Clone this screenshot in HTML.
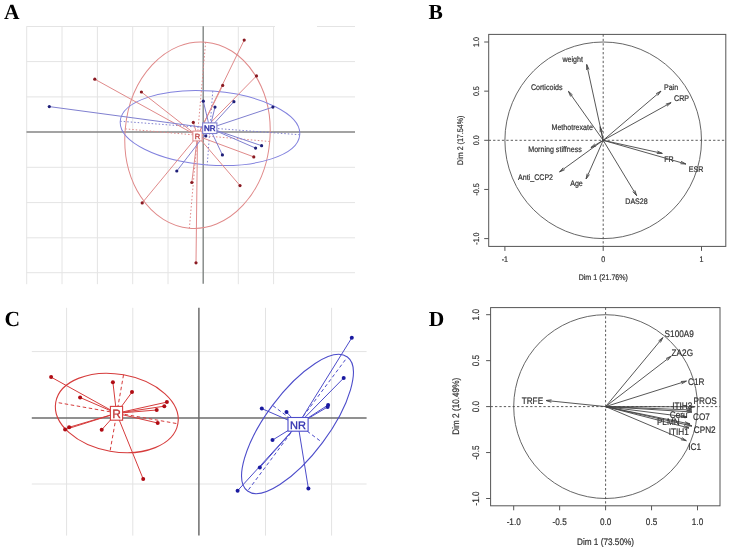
<!DOCTYPE html>
<html><head><meta charset="utf-8"><style>
html,body{margin:0;padding:0;background:#fff;width:730px;height:550px;overflow:hidden}
svg{display:block;filter:blur(0.35px);text-rendering:geometricPrecision}
</style></head><body>
<svg width="730" height="550" viewBox="0 0 730 550">
<rect width="730" height="550" fill="#fff"/>
<line x1="26.7" y1="26.4" x2="26.7" y2="284.2" stroke="#e4e4e4" stroke-width="1" />
<line x1="62" y1="26.4" x2="62" y2="284.2" stroke="#e4e4e4" stroke-width="1" />
<line x1="97.4" y1="26.4" x2="97.4" y2="284.2" stroke="#e4e4e4" stroke-width="1" />
<line x1="132.7" y1="26.4" x2="132.7" y2="284.2" stroke="#e4e4e4" stroke-width="1" />
<line x1="168" y1="26.4" x2="168" y2="284.2" stroke="#e4e4e4" stroke-width="1" />
<line x1="238.3" y1="26.4" x2="238.3" y2="284.2" stroke="#e4e4e4" stroke-width="1" />
<line x1="273.6" y1="26.4" x2="273.6" y2="284.2" stroke="#e4e4e4" stroke-width="1" />
<line x1="26.5" y1="26.5" x2="275" y2="26.5" stroke="#e4e4e4" stroke-width="1" />
<line x1="317" y1="26.5" x2="355" y2="26.5" stroke="#e4e4e4" stroke-width="1" />
<line x1="26.5" y1="61.6" x2="355" y2="61.6" stroke="#e4e4e4" stroke-width="1" />
<line x1="26.5" y1="96.9" x2="355" y2="96.9" stroke="#e4e4e4" stroke-width="1" />
<line x1="26.5" y1="167.3" x2="355" y2="167.3" stroke="#e4e4e4" stroke-width="1" />
<line x1="26.5" y1="202.6" x2="355" y2="202.6" stroke="#e4e4e4" stroke-width="1" />
<line x1="26.5" y1="237.8" x2="355" y2="237.8" stroke="#e4e4e4" stroke-width="1" />
<line x1="26.5" y1="272.7" x2="355" y2="272.7" stroke="#e4e4e4" stroke-width="1" />
<line x1="26.5" y1="132" x2="355" y2="132" stroke="#858585" stroke-width="1.4" />
<line x1="203.2" y1="26.2" x2="203.2" y2="283.8" stroke="#808583" stroke-width="1.4" />
<ellipse cx="197.5" cy="135.2" rx="72.5" ry="93.4" fill="none" stroke="#e08a8a" stroke-width="1" transform="rotate(5 197.5 135.2)"/>
<ellipse cx="210" cy="128" rx="90" ry="37" fill="none" stroke="#8282de" stroke-width="1" transform="rotate(4.3 210 128)"/>
<line x1="125.28" y1="128.88" x2="269.72" y2="141.52" stroke="#e08a8a" stroke-width="1" stroke-dasharray="1.5,2"/>
<line x1="205.64" y1="42.16" x2="189.36" y2="228.24" stroke="#e08a8a" stroke-width="1" stroke-dasharray="1.5,2"/>
<line x1="120.25" y1="121.25" x2="299.75" y2="134.75" stroke="#8080d0" stroke-width="1" stroke-dasharray="1.5,2"/>
<line x1="212.77" y1="91.1" x2="207.23" y2="164.9" stroke="#8080d0" stroke-width="1" stroke-dasharray="1.5,2"/>
<line x1="197.5" y1="136" x2="94.8" y2="79.2" stroke="#e08a8a" stroke-width="1" />
<line x1="197.5" y1="136" x2="141.4" y2="92" stroke="#e08a8a" stroke-width="1" />
<line x1="197.5" y1="136" x2="244.2" y2="40.1" stroke="#e08a8a" stroke-width="1" />
<line x1="197.5" y1="136" x2="256.5" y2="75.9" stroke="#e08a8a" stroke-width="1" />
<line x1="197.5" y1="136" x2="222.7" y2="85.4" stroke="#e08a8a" stroke-width="1" />
<line x1="197.5" y1="136" x2="193.3" y2="122.4" stroke="#e08a8a" stroke-width="1" />
<line x1="197.5" y1="136" x2="253.8" y2="156.9" stroke="#e08a8a" stroke-width="1" />
<line x1="197.5" y1="136" x2="240" y2="185.6" stroke="#e08a8a" stroke-width="1" />
<line x1="197.5" y1="136" x2="142.2" y2="202.9" stroke="#e08a8a" stroke-width="1" />
<line x1="197.5" y1="136" x2="191.8" y2="182.5" stroke="#e08a8a" stroke-width="1" />
<line x1="197.5" y1="136" x2="196" y2="262.8" stroke="#e08a8a" stroke-width="1" />
<line x1="209.8" y1="128.2" x2="49.3" y2="106.6" stroke="#8080d0" stroke-width="1" />
<line x1="209.8" y1="128.2" x2="203.3" y2="101.2" stroke="#8080d0" stroke-width="1" />
<line x1="209.8" y1="128.2" x2="215" y2="107.1" stroke="#8080d0" stroke-width="1" />
<line x1="209.8" y1="128.2" x2="233.9" y2="101.7" stroke="#8080d0" stroke-width="1" />
<line x1="209.8" y1="128.2" x2="272.9" y2="107.1" stroke="#8080d0" stroke-width="1" />
<line x1="209.8" y1="128.2" x2="261.6" y2="145.7" stroke="#8080d0" stroke-width="1" />
<line x1="209.8" y1="128.2" x2="255.6" y2="148.1" stroke="#8080d0" stroke-width="1" />
<line x1="209.8" y1="128.2" x2="222.4" y2="154.9" stroke="#8080d0" stroke-width="1" />
<line x1="209.8" y1="128.2" x2="205.8" y2="136" stroke="#8080d0" stroke-width="1" />
<line x1="209.8" y1="128.2" x2="176.8" y2="171" stroke="#8080d0" stroke-width="1" />
<circle cx="94.8" cy="79.2" r="1.6" fill="#8a1a22"/>
<circle cx="141.4" cy="92" r="1.6" fill="#8a1a22"/>
<circle cx="244.2" cy="40.1" r="1.6" fill="#8a1a22"/>
<circle cx="256.5" cy="75.9" r="1.6" fill="#8a1a22"/>
<circle cx="222.7" cy="85.4" r="1.6" fill="#8a1a22"/>
<circle cx="193.3" cy="122.4" r="1.6" fill="#8a1a22"/>
<circle cx="253.8" cy="156.9" r="1.6" fill="#8a1a22"/>
<circle cx="240" cy="185.6" r="1.6" fill="#8a1a22"/>
<circle cx="142.2" cy="202.9" r="1.6" fill="#8a1a22"/>
<circle cx="191.8" cy="182.5" r="1.6" fill="#8a1a22"/>
<circle cx="196" cy="262.8" r="1.6" fill="#8a1a22"/>
<circle cx="49.3" cy="106.6" r="1.6" fill="#1e1e78"/>
<circle cx="203.3" cy="101.2" r="1.6" fill="#1e1e78"/>
<circle cx="215" cy="107.1" r="1.6" fill="#1e1e78"/>
<circle cx="233.9" cy="101.7" r="1.6" fill="#1e1e78"/>
<circle cx="272.9" cy="107.1" r="1.6" fill="#1e1e78"/>
<circle cx="261.6" cy="145.7" r="1.6" fill="#1e1e78"/>
<circle cx="255.6" cy="148.1" r="1.6" fill="#1e1e78"/>
<circle cx="222.4" cy="154.9" r="1.6" fill="#1e1e78"/>
<circle cx="205.8" cy="136" r="1.6" fill="#1e1e78"/>
<circle cx="176.8" cy="171" r="1.6" fill="#1e1e78"/>
<rect x="192.9" y="131.1" width="9.2" height="9.8" fill="#fff" stroke="#e08a8a" stroke-width="1"/>
<text x="197.5" y="139.3" font-size="7.5" fill="#c04848" text-anchor="middle" font-family="Liberation Sans" stroke="#c04848" stroke-width="0.35">R</text>
<rect x="202.7" y="122.9" width="14.2" height="10.6" fill="#fff" stroke="#8080d0" stroke-width="1.1"/>
<text x="209.7" y="131.4" font-size="8" fill="#2e2ea8" text-anchor="middle" font-family="Liberation Sans" stroke="#2e2ea8" stroke-width="0.45">NR</text>
<line x1="66.6" y1="307.8" x2="66.6" y2="535.6" stroke="#e3e3e3" stroke-width="1" />
<line x1="132.8" y1="307.8" x2="132.8" y2="535.6" stroke="#e3e3e3" stroke-width="1" />
<line x1="265.5" y1="307.8" x2="265.5" y2="535.6" stroke="#e3e3e3" stroke-width="1" />
<line x1="331.6" y1="307.8" x2="331.6" y2="535.6" stroke="#e3e3e3" stroke-width="1" />
<line x1="31.8" y1="351.6" x2="366.6" y2="351.6" stroke="#e3e3e3" stroke-width="1" />
<line x1="31.8" y1="484" x2="366.6" y2="484" stroke="#e3e3e3" stroke-width="1" />
<line x1="31.8" y1="417.9" x2="366.6" y2="417.9" stroke="#6c6c6c" stroke-width="1.5" />
<line x1="198.9" y1="307.8" x2="198.9" y2="535.6" stroke="#6c6c6c" stroke-width="1.5" />
<ellipse cx="116.8" cy="413" rx="62" ry="38.8" fill="none" stroke="#d63c3c" stroke-width="1.1" transform="rotate(10 116.8 413)"/>
<line x1="58.7" y1="402.75" x2="177.37" y2="423.68" stroke="#d63c3c" stroke-width="1" stroke-dasharray="3.5,2.6"/>
<line x1="123.54" y1="374.79" x2="110.06" y2="451.21" stroke="#d63c3c" stroke-width="1" stroke-dasharray="3.5,2.6"/>
<ellipse cx="297.5" cy="424" rx="83.5" ry="31.2" fill="none" stroke="#4c4cca" stroke-width="1.1" transform="rotate(-53.3 297.5 424)"/>
<line x1="248.49" y1="489.75" x2="346.51" y2="358.25" stroke="#4c4cca" stroke-width="1" stroke-dasharray="3.5,2.6"/>
<line x1="272.97" y1="405.71" x2="322.03" y2="442.29" stroke="#4c4cca" stroke-width="1" stroke-dasharray="3.5,2.6"/>
<line x1="116.5" y1="413.3" x2="51.1" y2="377.1" stroke="#d63c3c" stroke-width="1.0" />
<line x1="116.5" y1="413.3" x2="80.1" y2="397.5" stroke="#d63c3c" stroke-width="1.0" />
<line x1="116.5" y1="413.3" x2="112.9" y2="382.2" stroke="#d63c3c" stroke-width="1.0" />
<line x1="116.5" y1="413.3" x2="132" y2="392.1" stroke="#d63c3c" stroke-width="1.0" />
<line x1="116.5" y1="413.3" x2="166.9" y2="402.1" stroke="#d63c3c" stroke-width="1.0" />
<line x1="116.5" y1="413.3" x2="164.3" y2="406.2" stroke="#d63c3c" stroke-width="1.0" />
<line x1="116.5" y1="413.3" x2="156.7" y2="410" stroke="#d63c3c" stroke-width="1.0" />
<line x1="116.5" y1="413.3" x2="157.7" y2="423" stroke="#d63c3c" stroke-width="1.0" />
<line x1="116.5" y1="413.3" x2="143.2" y2="479" stroke="#d63c3c" stroke-width="1.0" />
<line x1="116.5" y1="413.3" x2="101.7" y2="429.8" stroke="#d63c3c" stroke-width="1.0" />
<line x1="116.5" y1="413.3" x2="65.1" y2="429.6" stroke="#d63c3c" stroke-width="1.0" />
<line x1="116.5" y1="413.3" x2="69.1" y2="427.3" stroke="#d63c3c" stroke-width="1.0" />
<line x1="298" y1="424.4" x2="351.8" y2="337.8" stroke="#4c4cca" stroke-width="1.0" />
<line x1="298" y1="424.4" x2="343.7" y2="378" stroke="#4c4cca" stroke-width="1.0" />
<line x1="298" y1="424.4" x2="328.1" y2="405" stroke="#4c4cca" stroke-width="1.0" />
<line x1="298" y1="424.4" x2="327.6" y2="407" stroke="#4c4cca" stroke-width="1.0" />
<line x1="298" y1="424.4" x2="261.8" y2="408.6" stroke="#4c4cca" stroke-width="1.0" />
<line x1="298" y1="424.4" x2="286.5" y2="412.1" stroke="#4c4cca" stroke-width="1.0" />
<line x1="298" y1="424.4" x2="272.5" y2="440.1" stroke="#4c4cca" stroke-width="1.0" />
<line x1="298" y1="424.4" x2="259.8" y2="467.6" stroke="#4c4cca" stroke-width="1.0" />
<line x1="298" y1="424.4" x2="237.6" y2="490.7" stroke="#4c4cca" stroke-width="1.0" />
<line x1="298" y1="424.4" x2="308.4" y2="488.6" stroke="#4c4cca" stroke-width="1.0" />
<circle cx="51.1" cy="377.1" r="2" fill="#b00c14"/>
<circle cx="80.1" cy="397.5" r="2" fill="#b00c14"/>
<circle cx="112.9" cy="382.2" r="2" fill="#b00c14"/>
<circle cx="132" cy="392.1" r="2" fill="#b00c14"/>
<circle cx="166.9" cy="402.1" r="2" fill="#b00c14"/>
<circle cx="164.3" cy="406.2" r="2" fill="#b00c14"/>
<circle cx="156.7" cy="410" r="2" fill="#b00c14"/>
<circle cx="157.7" cy="423" r="2" fill="#b00c14"/>
<circle cx="143.2" cy="479" r="2" fill="#b00c14"/>
<circle cx="101.7" cy="429.8" r="2" fill="#b00c14"/>
<circle cx="65.1" cy="429.6" r="2" fill="#b00c14"/>
<circle cx="69.1" cy="427.3" r="2" fill="#b00c14"/>
<circle cx="351.8" cy="337.8" r="2" fill="#1a1aa0"/>
<circle cx="343.7" cy="378" r="2" fill="#1a1aa0"/>
<circle cx="328.1" cy="405" r="2" fill="#1a1aa0"/>
<circle cx="327.6" cy="407" r="2" fill="#1a1aa0"/>
<circle cx="261.8" cy="408.6" r="2" fill="#1a1aa0"/>
<circle cx="286.5" cy="412.1" r="2" fill="#1a1aa0"/>
<circle cx="272.5" cy="440.1" r="2" fill="#1a1aa0"/>
<circle cx="259.8" cy="467.6" r="2" fill="#1a1aa0"/>
<circle cx="237.6" cy="490.7" r="2" fill="#1a1aa0"/>
<circle cx="308.4" cy="488.6" r="2" fill="#1a1aa0"/>
<rect x="110.4" y="406.4" width="12.2" height="13.8" fill="#fff" stroke="#d63c3c" stroke-width="1.1"/>
<text x="116.6" y="418.2" font-size="12" fill="#c03838" text-anchor="middle" font-family="Liberation Sans" stroke="#c03838" stroke-width="0.3">R</text>
<rect x="288" y="417.5" width="20.1" height="13.7" fill="#fff" stroke="#4c4cca" stroke-width="1.1"/>
<text x="298" y="428.8" font-size="11" fill="#3030b0" text-anchor="middle" font-family="Liberation Sans" stroke="#3030b0" stroke-width="0.35">NR</text>
<text x="4.0" y="18.7" font-size="21.5" font-weight="bold" fill="#000" font-family="Liberation Serif">A</text>
<text x="428.4" y="18.8" font-size="21.5" font-weight="bold" fill="#000" font-family="Liberation Serif">B</text>
<text x="4.4" y="325.6" font-size="21.5" font-weight="bold" fill="#000" font-family="Liberation Serif">C</text>
<text x="428.8" y="325.8" font-size="21.5" font-weight="bold" fill="#000" font-family="Liberation Serif">D</text>
<rect x="488.7" y="34.4" width="237.1" height="212" fill="none" stroke="#555" stroke-width="1"/>
<circle cx="603.2" cy="140.3" r="98.3" fill="none" stroke="#555" stroke-width="0.9"/>
<line x1="488.7" y1="140.3" x2="725.8" y2="140.3" stroke="#4a4a4a" stroke-width="0.9" stroke-dasharray="2.3,2.1"/>
<line x1="603.2" y1="34.4" x2="603.2" y2="246.4" stroke="#4a4a4a" stroke-width="0.9" stroke-dasharray="2.3,2.1"/>
<line x1="484.2" y1="42" x2="488.7" y2="42" stroke="#555" stroke-width="1" />
<text x="0" y="0" font-size="8.1" fill="#303030" stroke="#303030" stroke-width="0.2" text-anchor="middle" font-family="Liberation Sans" transform="translate(476 42) rotate(-90) scale(0.877 1)" dy="0.35em" >1.0</text>
<line x1="484.2" y1="91.15" x2="488.7" y2="91.15" stroke="#555" stroke-width="1" />
<text x="0" y="0" font-size="8.1" fill="#303030" stroke="#303030" stroke-width="0.2" text-anchor="middle" font-family="Liberation Sans" transform="translate(476 91.15) rotate(-90) scale(0.877 1)" dy="0.35em" >0.5</text>
<line x1="484.2" y1="140.3" x2="488.7" y2="140.3" stroke="#555" stroke-width="1" />
<text x="0" y="0" font-size="8.1" fill="#303030" stroke="#303030" stroke-width="0.2" text-anchor="middle" font-family="Liberation Sans" transform="translate(476 140.3) rotate(-90) scale(0.877 1)" dy="0.35em" >0.0</text>
<line x1="484.2" y1="189.45" x2="488.7" y2="189.45" stroke="#555" stroke-width="1" />
<text x="0" y="0" font-size="8.1" fill="#303030" stroke="#303030" stroke-width="0.2" text-anchor="middle" font-family="Liberation Sans" transform="translate(476 189.45) rotate(-90) scale(0.877 1)" dy="0.35em" >-0.5</text>
<line x1="484.2" y1="238.6" x2="488.7" y2="238.6" stroke="#555" stroke-width="1" />
<text x="0" y="0" font-size="8.1" fill="#303030" stroke="#303030" stroke-width="0.2" text-anchor="middle" font-family="Liberation Sans" transform="translate(476 238.6) rotate(-90) scale(0.877 1)" dy="0.35em" >-1.0</text>
<line x1="504.9" y1="246.4" x2="504.9" y2="250.9" stroke="#555" stroke-width="1" />
<text x="0" y="0" font-size="8.1" fill="#303030" stroke="#303030" stroke-width="0.2" text-anchor="middle" font-family="Liberation Sans" transform="translate(504.9 259.1) scale(0.877 1)" dy="0.35em" >-1</text>
<line x1="603.2" y1="246.4" x2="603.2" y2="250.9" stroke="#555" stroke-width="1" />
<text x="0" y="0" font-size="8.1" fill="#303030" stroke="#303030" stroke-width="0.2" text-anchor="middle" font-family="Liberation Sans" transform="translate(603.2 259.1) scale(0.877 1)" dy="0.35em" >0</text>
<line x1="701.5" y1="246.4" x2="701.5" y2="250.9" stroke="#555" stroke-width="1" />
<text x="0" y="0" font-size="8.1" fill="#303030" stroke="#303030" stroke-width="0.2" text-anchor="middle" font-family="Liberation Sans" transform="translate(701.5 259.1) scale(0.877 1)" dy="0.35em" >1</text>
<text x="0" y="0" font-size="8.1" fill="#303030" stroke="#303030" stroke-width="0.2" text-anchor="middle" font-family="Liberation Sans" transform="translate(603.3 276.9) scale(0.877 1)" dy="0.35em" >Dim 1 (21.76%)</text>
<text x="0" y="0" font-size="8.1" fill="#303030" stroke="#303030" stroke-width="0.2" text-anchor="middle" font-family="Liberation Sans" transform="translate(460 140.3) rotate(-90) scale(0.877 1)" dy="0.35em" >Dim 2 (17.54%)</text>
<line x1="603.2" y1="140.3" x2="586.7" y2="64.5" stroke="#444" stroke-width="0.9" />
<line x1="586.7" y1="64.5" x2="586.63" y2="70" stroke="#444" stroke-width="0.9" />
<line x1="586.7" y1="64.5" x2="589.05" y2="69.47" stroke="#444" stroke-width="0.9" />
<text x="0" y="0" font-size="8.1" fill="#303030" stroke="#303030" stroke-width="0.2" text-anchor="middle" font-family="Liberation Sans" transform="translate(572.7 59.6) scale(0.877 1)" dy="0.35em" >weight</text>
<line x1="603.2" y1="140.3" x2="568.5" y2="91.4" stroke="#444" stroke-width="0.9" />
<line x1="568.5" y1="91.4" x2="570.59" y2="96.49" stroke="#444" stroke-width="0.9" />
<line x1="568.5" y1="91.4" x2="572.61" y2="95.05" stroke="#444" stroke-width="0.9" />
<text x="0" y="0" font-size="8.1" fill="#303030" stroke="#303030" stroke-width="0.2" text-anchor="middle" font-family="Liberation Sans" transform="translate(546.7 87.2) scale(0.877 1)" dy="0.35em" >Corticoids</text>
<line x1="603.2" y1="140.3" x2="600.2" y2="126.8" stroke="#444" stroke-width="0.9" />
<line x1="600.2" y1="126.8" x2="600.15" y2="132.3" stroke="#444" stroke-width="0.9" />
<line x1="600.2" y1="126.8" x2="602.57" y2="131.76" stroke="#444" stroke-width="0.9" />
<text x="0" y="0" font-size="8.1" fill="#303030" stroke="#303030" stroke-width="0.2" text-anchor="middle" font-family="Liberation Sans" transform="translate(572.2 126.7) scale(0.877 1)" dy="0.35em" >Methotrexate</text>
<line x1="603.2" y1="140.3" x2="661" y2="91.1" stroke="#444" stroke-width="0.9" />
<line x1="661" y1="91.1" x2="656.12" y2="93.63" stroke="#444" stroke-width="0.9" />
<line x1="661" y1="91.1" x2="657.72" y2="95.52" stroke="#444" stroke-width="0.9" />
<text x="0" y="0" font-size="8.1" fill="#303030" stroke="#303030" stroke-width="0.2" text-anchor="middle" font-family="Liberation Sans" transform="translate(671 86.7) scale(0.877 1)" dy="0.35em" >Pain</text>
<line x1="603.2" y1="140.3" x2="671.1" y2="102.6" stroke="#444" stroke-width="0.9" />
<line x1="671.1" y1="102.6" x2="665.81" y2="104.12" stroke="#444" stroke-width="0.9" />
<line x1="671.1" y1="102.6" x2="667.02" y2="106.28" stroke="#444" stroke-width="0.9" />
<text x="0" y="0" font-size="8.1" fill="#303030" stroke="#303030" stroke-width="0.2" text-anchor="middle" font-family="Liberation Sans" transform="translate(681.6 98.6) scale(0.877 1)" dy="0.35em" >CRP</text>
<line x1="603.2" y1="140.3" x2="590.9" y2="147.6" stroke="#444" stroke-width="0.9" />
<line x1="590.9" y1="147.6" x2="596.14" y2="145.93" stroke="#444" stroke-width="0.9" />
<line x1="590.9" y1="147.6" x2="594.88" y2="143.8" stroke="#444" stroke-width="0.9" />
<text x="0" y="0" font-size="8.1" fill="#303030" stroke="#303030" stroke-width="0.2" text-anchor="middle" font-family="Liberation Sans" transform="translate(555 148.7) scale(0.877 1)" dy="0.35em" >Morning stiffness</text>
<line x1="603.2" y1="140.3" x2="559.6" y2="171.9" stroke="#444" stroke-width="0.9" />
<line x1="559.6" y1="171.9" x2="564.67" y2="169.76" stroke="#444" stroke-width="0.9" />
<line x1="559.6" y1="171.9" x2="563.21" y2="167.75" stroke="#444" stroke-width="0.9" />
<text x="0" y="0" font-size="8.1" fill="#303030" stroke="#303030" stroke-width="0.2" text-anchor="middle" font-family="Liberation Sans" transform="translate(535.5 176.9) scale(0.877 1)" dy="0.35em" >Anti_CCP2</text>
<line x1="603.2" y1="140.3" x2="586.1" y2="179" stroke="#444" stroke-width="0.9" />
<line x1="586.1" y1="179" x2="589.4" y2="174.6" stroke="#444" stroke-width="0.9" />
<line x1="586.1" y1="179" x2="587.13" y2="173.6" stroke="#444" stroke-width="0.9" />
<text x="0" y="0" font-size="8.1" fill="#303030" stroke="#303030" stroke-width="0.2" text-anchor="middle" font-family="Liberation Sans" transform="translate(576.5 183.6) scale(0.877 1)" dy="0.35em" >Age</text>
<line x1="603.2" y1="140.3" x2="662.3" y2="153.4" stroke="#444" stroke-width="0.9" />
<line x1="662.3" y1="153.4" x2="657.34" y2="151.03" stroke="#444" stroke-width="0.9" />
<line x1="662.3" y1="153.4" x2="656.8" y2="153.45" stroke="#444" stroke-width="0.9" />
<text x="0" y="0" font-size="8.1" fill="#303030" stroke="#303030" stroke-width="0.2" text-anchor="middle" font-family="Liberation Sans" transform="translate(669 159) scale(0.877 1)" dy="0.35em" >FR</text>
<line x1="603.2" y1="140.3" x2="685.9" y2="164" stroke="#444" stroke-width="0.9" />
<line x1="685.9" y1="164" x2="681.09" y2="161.33" stroke="#444" stroke-width="0.9" />
<line x1="685.9" y1="164" x2="680.41" y2="163.71" stroke="#444" stroke-width="0.9" />
<text x="0" y="0" font-size="8.1" fill="#303030" stroke="#303030" stroke-width="0.2" text-anchor="middle" font-family="Liberation Sans" transform="translate(696.1 169) scale(0.877 1)" dy="0.35em" >ESR</text>
<line x1="603.2" y1="140.3" x2="636.6" y2="195.6" stroke="#444" stroke-width="0.9" />
<line x1="636.6" y1="195.6" x2="634.89" y2="190.37" stroke="#444" stroke-width="0.9" />
<line x1="636.6" y1="195.6" x2="632.77" y2="191.65" stroke="#444" stroke-width="0.9" />
<text x="0" y="0" font-size="8.1" fill="#303030" stroke="#303030" stroke-width="0.2" text-anchor="middle" font-family="Liberation Sans" transform="translate(636.5 200.8) scale(0.877 1)" dy="0.35em" >DAS28</text>
<rect x="490.6" y="307.6" width="229.4" height="198.2" fill="none" stroke="#555" stroke-width="1"/>
<circle cx="605.6" cy="406.6" r="91.9" fill="none" stroke="#555" stroke-width="0.9"/>
<line x1="490.6" y1="406.6" x2="720" y2="406.6" stroke="#4a4a4a" stroke-width="0.9" stroke-dasharray="2.3,2.1"/>
<line x1="605.6" y1="307.6" x2="605.6" y2="505.8" stroke="#4a4a4a" stroke-width="0.9" stroke-dasharray="2.3,2.1"/>
<line x1="486.1" y1="314.7" x2="490.6" y2="314.7" stroke="#555" stroke-width="1" />
<text x="0" y="0" font-size="9.5" fill="#303030" stroke="#303030" stroke-width="0.2" text-anchor="middle" font-family="Liberation Sans" transform="translate(476 314.7) rotate(-90) scale(0.863 1)" dy="0.35em" >1.0</text>
<line x1="486.1" y1="360.65" x2="490.6" y2="360.65" stroke="#555" stroke-width="1" />
<text x="0" y="0" font-size="9.5" fill="#303030" stroke="#303030" stroke-width="0.2" text-anchor="middle" font-family="Liberation Sans" transform="translate(476 360.65) rotate(-90) scale(0.863 1)" dy="0.35em" >0.5</text>
<line x1="486.1" y1="406.6" x2="490.6" y2="406.6" stroke="#555" stroke-width="1" />
<text x="0" y="0" font-size="9.5" fill="#303030" stroke="#303030" stroke-width="0.2" text-anchor="middle" font-family="Liberation Sans" transform="translate(476 406.6) rotate(-90) scale(0.863 1)" dy="0.35em" >0.0</text>
<line x1="486.1" y1="452.55" x2="490.6" y2="452.55" stroke="#555" stroke-width="1" />
<text x="0" y="0" font-size="9.5" fill="#303030" stroke="#303030" stroke-width="0.2" text-anchor="middle" font-family="Liberation Sans" transform="translate(476 452.55) rotate(-90) scale(0.863 1)" dy="0.35em" >-0.5</text>
<line x1="486.1" y1="498.5" x2="490.6" y2="498.5" stroke="#555" stroke-width="1" />
<text x="0" y="0" font-size="9.5" fill="#303030" stroke="#303030" stroke-width="0.2" text-anchor="middle" font-family="Liberation Sans" transform="translate(476 498.5) rotate(-90) scale(0.863 1)" dy="0.35em" >-1.0</text>
<line x1="513.7" y1="505.8" x2="513.7" y2="510.3" stroke="#555" stroke-width="1" />
<text x="0" y="0" font-size="9.5" fill="#303030" stroke="#303030" stroke-width="0.2" text-anchor="middle" font-family="Liberation Sans" transform="translate(513.7 521.4) scale(0.863 1)" dy="0.35em" >-1.0</text>
<line x1="559.65" y1="505.8" x2="559.65" y2="510.3" stroke="#555" stroke-width="1" />
<text x="0" y="0" font-size="9.5" fill="#303030" stroke="#303030" stroke-width="0.2" text-anchor="middle" font-family="Liberation Sans" transform="translate(559.65 521.4) scale(0.863 1)" dy="0.35em" >-0.5</text>
<line x1="605.6" y1="505.8" x2="605.6" y2="510.3" stroke="#555" stroke-width="1" />
<text x="0" y="0" font-size="9.5" fill="#303030" stroke="#303030" stroke-width="0.2" text-anchor="middle" font-family="Liberation Sans" transform="translate(605.6 521.4) scale(0.863 1)" dy="0.35em" >0.0</text>
<line x1="651.55" y1="505.8" x2="651.55" y2="510.3" stroke="#555" stroke-width="1" />
<text x="0" y="0" font-size="9.5" fill="#303030" stroke="#303030" stroke-width="0.2" text-anchor="middle" font-family="Liberation Sans" transform="translate(651.55 521.4) scale(0.863 1)" dy="0.35em" >0.5</text>
<line x1="697.5" y1="505.8" x2="697.5" y2="510.3" stroke="#555" stroke-width="1" />
<text x="0" y="0" font-size="9.5" fill="#303030" stroke="#303030" stroke-width="0.2" text-anchor="middle" font-family="Liberation Sans" transform="translate(697.5 521.4) scale(0.863 1)" dy="0.35em" >1.0</text>
<text x="0" y="0" font-size="9.5" fill="#303030" stroke="#303030" stroke-width="0.2" text-anchor="middle" font-family="Liberation Sans" transform="translate(605.5 542) scale(0.863 1)" dy="0.35em" >Dim 1 (73.50%)</text>
<text x="0" y="0" font-size="9.5" fill="#303030" stroke="#303030" stroke-width="0.2" text-anchor="middle" font-family="Liberation Sans" transform="translate(455.5 406.3) rotate(-90) scale(0.863 1)" dy="0.35em" >Dim 2 (10.49%)</text>
<line x1="605.6" y1="406.6" x2="662.9" y2="337.6" stroke="#444" stroke-width="0.9" />
<line x1="662.9" y1="337.6" x2="658.52" y2="340.93" stroke="#444" stroke-width="0.9" />
<line x1="662.9" y1="337.6" x2="660.43" y2="342.51" stroke="#444" stroke-width="0.9" />
<text x="0" y="0" font-size="9.5" fill="#303030" stroke="#303030" stroke-width="0.2" text-anchor="middle" font-family="Liberation Sans" transform="translate(679.2 334) scale(0.863 1)" dy="0.35em" >S100A9</text>
<line x1="605.6" y1="406.6" x2="671.1" y2="356.2" stroke="#444" stroke-width="0.9" />
<line x1="671.1" y1="356.2" x2="666.1" y2="358.49" stroke="#444" stroke-width="0.9" />
<line x1="671.1" y1="356.2" x2="667.61" y2="360.45" stroke="#444" stroke-width="0.9" />
<text x="0" y="0" font-size="9.5" fill="#303030" stroke="#303030" stroke-width="0.2" text-anchor="middle" font-family="Liberation Sans" transform="translate(682.3 352.2) scale(0.863 1)" dy="0.35em" >ZA2G</text>
<line x1="605.6" y1="406.6" x2="686.4" y2="381.1" stroke="#444" stroke-width="0.9" />
<line x1="686.4" y1="381.1" x2="680.92" y2="381.53" stroke="#444" stroke-width="0.9" />
<line x1="686.4" y1="381.1" x2="681.66" y2="383.89" stroke="#444" stroke-width="0.9" />
<text x="0" y="0" font-size="9.5" fill="#303030" stroke="#303030" stroke-width="0.2" text-anchor="middle" font-family="Liberation Sans" transform="translate(696.2 381.5) scale(0.863 1)" dy="0.35em" >C1R</text>
<line x1="605.6" y1="406.6" x2="546.1" y2="400.5" stroke="#444" stroke-width="0.9" />
<line x1="546.1" y1="400.5" x2="551.3" y2="402.28" stroke="#444" stroke-width="0.9" />
<line x1="546.1" y1="400.5" x2="551.56" y2="399.82" stroke="#444" stroke-width="0.9" />
<text x="0" y="0" font-size="9.5" fill="#303030" stroke="#303030" stroke-width="0.2" text-anchor="middle" font-family="Liberation Sans" transform="translate(532.4 401.1) scale(0.863 1)" dy="0.35em" >TRFE</text>
<line x1="605.6" y1="406.6" x2="694.5" y2="406.8" stroke="#444" stroke-width="0.9" />
<line x1="694.5" y1="406.8" x2="689.14" y2="405.55" stroke="#444" stroke-width="0.9" />
<line x1="694.5" y1="406.8" x2="689.14" y2="408.03" stroke="#444" stroke-width="0.9" />
<text x="0" y="0" font-size="9.5" fill="#303030" stroke="#303030" stroke-width="0.2" text-anchor="middle" font-family="Liberation Sans" transform="translate(705.2 400.2) scale(0.863 1)" dy="0.35em" >PROS</text>
<line x1="605.6" y1="406.6" x2="691.8" y2="410" stroke="#444" stroke-width="0.9" />
<line x1="691.8" y1="410" x2="686.49" y2="408.55" stroke="#444" stroke-width="0.9" />
<line x1="691.8" y1="410" x2="686.4" y2="411.03" stroke="#444" stroke-width="0.9" />
<text x="0" y="0" font-size="9.5" fill="#303030" stroke="#303030" stroke-width="0.2" text-anchor="middle" font-family="Liberation Sans" transform="translate(682.2 405.3) scale(0.863 1)" dy="0.35em" >ITIH3</text>
<line x1="605.6" y1="406.6" x2="692" y2="412" stroke="#444" stroke-width="0.9" />
<line x1="692" y1="412" x2="686.73" y2="410.43" stroke="#444" stroke-width="0.9" />
<line x1="692" y1="412" x2="686.57" y2="412.9" stroke="#444" stroke-width="0.9" />
<text x="0" y="0" font-size="9.5" fill="#303030" stroke="#303030" stroke-width="0.2" text-anchor="middle" font-family="Liberation Sans" transform="translate(701.4 416.3) scale(0.863 1)" dy="0.35em" >CO7</text>
<line x1="605.6" y1="406.6" x2="687" y2="417" stroke="#444" stroke-width="0.9" />
<line x1="687" y1="417" x2="681.84" y2="415.09" stroke="#444" stroke-width="0.9" />
<line x1="687" y1="417" x2="681.53" y2="417.55" stroke="#444" stroke-width="0.9" />
<text x="0" y="0" font-size="9.5" fill="#303030" stroke="#303030" stroke-width="0.2" text-anchor="middle" font-family="Liberation Sans" transform="translate(678.6 414.5) scale(0.863 1)" dy="0.35em" >Ceru</text>
<line x1="605.6" y1="406.6" x2="690" y2="424" stroke="#444" stroke-width="0.9" />
<line x1="690" y1="424" x2="685" y2="421.71" stroke="#444" stroke-width="0.9" />
<line x1="690" y1="424" x2="684.5" y2="424.13" stroke="#444" stroke-width="0.9" />
<text x="0" y="0" font-size="9.5" fill="#303030" stroke="#303030" stroke-width="0.2" text-anchor="middle" font-family="Liberation Sans" transform="translate(668.3 422) scale(0.863 1)" dy="0.35em" >PLMN</text>
<line x1="605.6" y1="406.6" x2="692" y2="426" stroke="#444" stroke-width="0.9" />
<line x1="692" y1="426" x2="687.04" y2="423.62" stroke="#444" stroke-width="0.9" />
<line x1="692" y1="426" x2="686.5" y2="426.03" stroke="#444" stroke-width="0.9" />
<text x="0" y="0" font-size="9.5" fill="#303030" stroke="#303030" stroke-width="0.2" text-anchor="middle" font-family="Liberation Sans" transform="translate(704.7 430) scale(0.863 1)" dy="0.35em" >CPN2</text>
<line x1="605.6" y1="406.6" x2="689" y2="428" stroke="#444" stroke-width="0.9" />
<line x1="689" y1="428" x2="684.12" y2="425.47" stroke="#444" stroke-width="0.9" />
<line x1="689" y1="428" x2="683.5" y2="427.87" stroke="#444" stroke-width="0.9" />
<text x="0" y="0" font-size="9.5" fill="#303030" stroke="#303030" stroke-width="0.2" text-anchor="middle" font-family="Liberation Sans" transform="translate(678.7 431.7) scale(0.863 1)" dy="0.35em" >ITIH1</text>
<line x1="605.6" y1="406.6" x2="686.3" y2="440.7" stroke="#444" stroke-width="0.9" />
<line x1="686.3" y1="440.7" x2="681.85" y2="437.47" stroke="#444" stroke-width="0.9" />
<line x1="686.3" y1="440.7" x2="680.88" y2="439.75" stroke="#444" stroke-width="0.9" />
<text x="0" y="0" font-size="9.5" fill="#303030" stroke="#303030" stroke-width="0.2" text-anchor="middle" font-family="Liberation Sans" transform="translate(694.6 446.3) scale(0.863 1)" dy="0.35em" >IC1</text>
</svg>
</body></html>
